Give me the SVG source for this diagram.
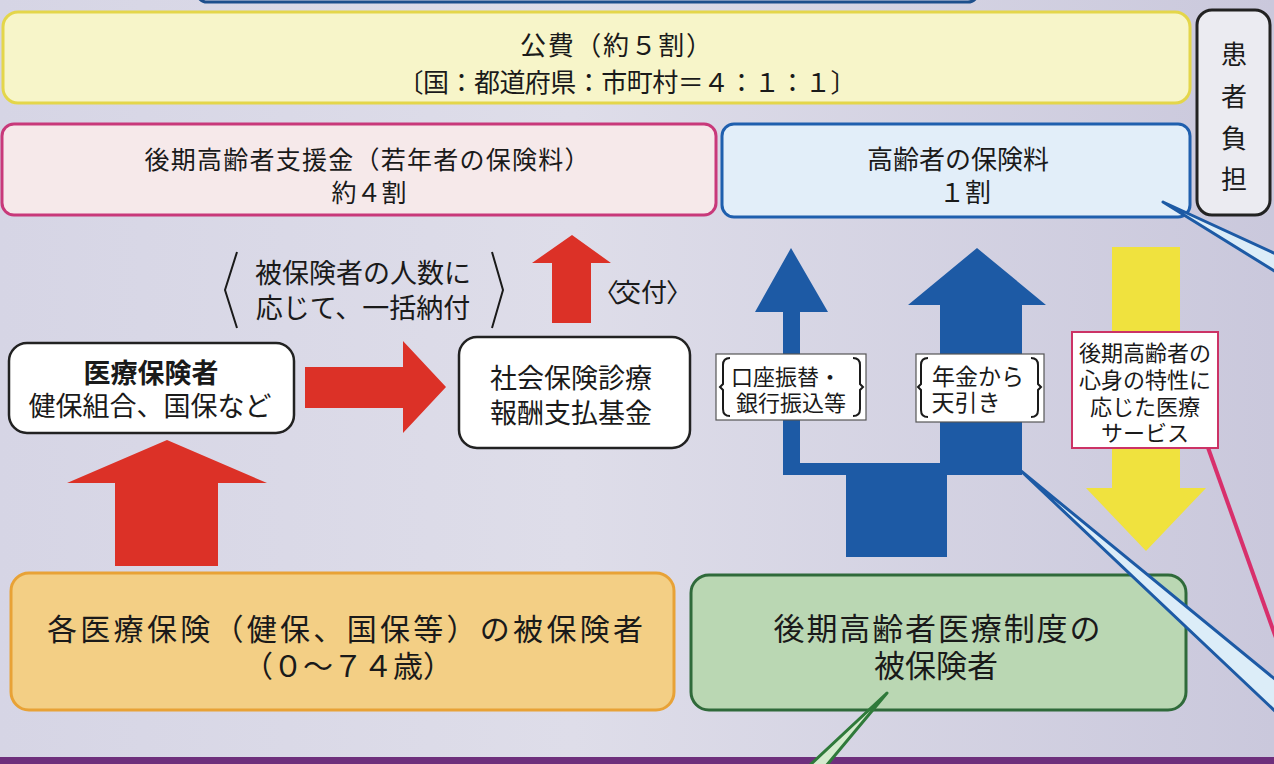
<svg xmlns="http://www.w3.org/2000/svg" width="1274" height="764" viewBox="0 0 1274 764">
<defs>
<linearGradient id="bg" x1="0" y1="0" x2="1" y2="0">
<stop offset="0" stop-color="#d6d5e5"/>
<stop offset="0.45" stop-color="#dedde9"/>
<stop offset="1" stop-color="#cac8dc"/>
</linearGradient>
<style>
text{font-family:"Noto Sans CJK JP","Noto Sans CJK SC",sans-serif;fill:#1a1a1a;text-anchor:middle}
.box{stroke-width:3}
.lbl{fill:#ffffff;stroke:#555;stroke-width:1.2}
.brk{fill:none;stroke:#1a1a1a;stroke-width:2}
.red{fill:#dc3127}
.blue{fill:#1d5aa5}
.yel{fill:#f0e23e}
.callb{fill:#dcedf8;stroke:#1d5aa5;stroke-width:3;stroke-linejoin:round}
</style>
</defs>
<rect x="0" y="0" width="1274" height="764" fill="url(#bg)"/>
<rect x="197" y="-30" width="781" height="32" rx="10" fill="#d9d9e6" stroke="#1d4f8c" stroke-width="3"/>
<rect x="0" y="757" width="1274" height="7" fill="#6e2f7c"/>

<g id="public">
<rect class="box" x="3" y="12" width="1187" height="91" rx="15" fill="#f7f5c9" stroke="#e4d64a"/>
<text x="616" y="55" font-size="26" textLength="192">公費（約５割）</text>
<text x="627" y="92" font-size="26" textLength="459">〔国：都道府県：市町村＝４：１：１〕</text>
</g>

<g id="patient">
<rect class="box" x="1197" y="10" width="73" height="205" rx="15" fill="#ebebf1" stroke="#222"/>
<text font-size="26"><tspan x="1234" y="64">患</tspan><tspan x="1234" y="106">者</tspan><tspan x="1234" y="148">負</tspan><tspan x="1234" y="189">担</tspan></text>
</g>

<g id="support">
<rect class="box" x="2" y="124" width="714" height="91" rx="12" fill="#f6e9ea" stroke="#c8397a"/>
<text x="367" y="169" font-size="25" textLength="445">後期高齢者支援金（若年者の保険料）</text>
<text x="369" y="202" font-size="25">約４割</text>
</g>

<g id="elderly-premium">
<rect class="box" x="722" y="124" width="468" height="93" rx="12" fill="#e2eef9" stroke="#1f5fae"/>
<text x="958" y="169" font-size="26">高齢者の保険料</text>
<text x="965" y="202" font-size="26">１割</text>
</g>

<g id="insurers">
<rect x="9" y="343" width="285" height="90" rx="18" fill="#ffffff" stroke="#222" stroke-width="2.5"/>
<text x="151" y="383" font-size="27" font-weight="bold">医療保険者</text>
<text x="150" y="416" font-size="27">健保組合、国保など</text>
</g>

<g id="fund">
<rect x="459" y="337" width="231" height="111" rx="18" fill="#ffffff" stroke="#222" stroke-width="2.5"/>
<text x="571" y="388" font-size="27">社会保険診療</text>
<text x="571" y="423" font-size="27">報酬支払基金</text>
</g>

<g id="young-insured">
<rect class="box" x="11" y="573" width="663" height="137" rx="18" fill="#f3cf85" stroke="#e8a236"/>
<text x="345" y="640" font-size="30" textLength="596">各医療保険（健保、国保等）の被保険者</text>
<text x="348" y="677" font-size="30">（０～７４歳）</text>
</g>

<g id="elderly-insured">
<rect class="box" x="691" y="575" width="495" height="135" rx="18" fill="#bad7b3" stroke="#2f6a3a"/>
<text x="937" y="640" font-size="31" textLength="327">後期高齢者医療制度の</text>
<text x="936" y="677" font-size="31">被保険者</text>
</g>

<g id="connectors">
<polygon class="red" points="572,235 611,263 591,263 591,323 552,323 552,263 532,263"/>
<polygon class="red" points="305,367 403,367 403,341 446,387 403,433 403,408 305,408"/>
<polygon class="red" points="167,440 267,483 218,483 218,566 115,566 115,483 67,483"/>
<path class="blue" d="M791,248 L828,312 L800,312 L800,463 L940,463 L940,305 L908,305 L977,248 L1046,305 L1022,305 L1022,475 L947,475 L947,557 L846,557 L846,475 L783,475 L783,312 L755,312 Z"/>
<polygon class="yel" points="1112,247 1180,247 1180,488 1206,488 1146,551 1086,488 1112,488"/>
<polygon class="callb" points="1163,202 1276,254 1276,272"/>
<polygon class="callb" points="1021,471 1276,680 1276,712"/>
<line x1="1206" y1="442" x2="1276" y2="638" stroke="#d8306c" stroke-width="4"/>
<polygon points="887,693 826,766 809,766" fill="#d5ebce" stroke="#2f7a3a" stroke-width="3" stroke-linejoin="round"/>
</g>

<g id="lump-sum-note">
<polyline class="brk" points="237,252 225,290 237,328"/>
<polyline class="brk" points="492,252 503,290 492,328"/>
<text font-size="27"><tspan x="363" y="283">被保険者の人数に</tspan><tspan x="363" y="318">応じて、一括納付</tspan></text>
</g>

<g id="grant-note">
<text font-size="26"><tspan x="606" y="302">〈</tspan><tspan x="641" y="302">交付</tspan><tspan x="679" y="302">〉</tspan></text>
</g>

<g id="transfer-label">
<rect class="lbl" x="716" y="354" width="150" height="66"/>
<path class="brk" d="M730,358 Q723,358 723,365 L723,384 L720,387 L723,390 L723,409 Q723,416 730,416"/>
<path class="brk" d="M853,358 Q860,358 860,365 L860,384 L863,387 L860,390 L860,409 Q860,416 853,416"/>
<text font-size="22"><tspan x="786" y="385">口座振替・</tspan><tspan x="791" y="411">銀行振込等</tspan></text>
</g>

<g id="pension-label">
<rect class="lbl" x="916" y="354" width="128" height="68"/>
<path class="brk" d="M928,358 Q921,358 921,365 L921,384 L918,387 L921,390 L921,410 Q921,417 928,417"/>
<path class="brk" d="M1031,358 Q1038,358 1038,365 L1038,384 L1041,387 L1038,390 L1038,410 Q1038,417 1031,417"/>
<text font-size="23"><tspan x="978" y="385">年金から</tspan><tspan x="966" y="411">天引き</tspan></text>
</g>

<g id="service-label">
<rect x="1072" y="332" width="146" height="116" fill="#ffffff" stroke="#cc3366" stroke-width="2"/>
<text font-size="22"><tspan x="1145" y="361">後期高齢者の</tspan><tspan x="1145" y="388">心身の特性に</tspan><tspan x="1145" y="415">応じた医療</tspan><tspan x="1145" y="441">サービス</tspan></text>
</g>
</svg>
